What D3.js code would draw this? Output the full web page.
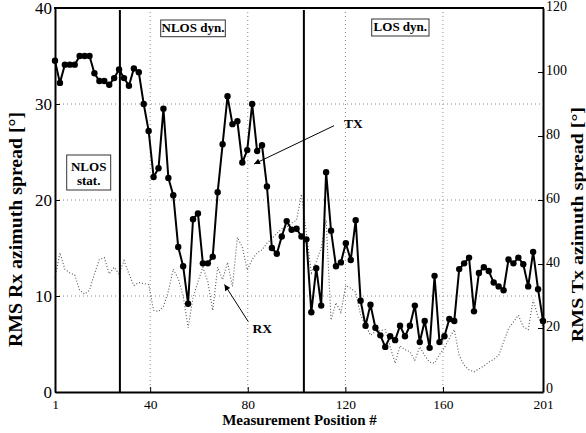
<!DOCTYPE html>
<html><head><meta charset="utf-8">
<script src="https://cdn.jsdelivr.net/npm/d3@7"></script>
<style>body{margin:0;background:#fff}svg{display:block}</style>
</head><body><svg id="c" width="586" height="433"></svg>
<script>
// TX RMS azimuth spread (right axis, degrees), 100 measurements along positions 1..201
const txValues = [103.5, 96.6, 102.3, 102.3, 102.3, 105, 105, 105, 99.6, 97.2,
  97.2, 96, 98.1, 100.8, 98.1, 95.7, 101.1, 99.9, 90, 81.6,
  67.2, 69.9, 88.5, 66.9, 61.5, 45.3, 39.3, 27.6, 54, 55.8,
  40.2, 40.2, 42.3, 62.4, 77.4, 92.4, 83.7, 84.6, 71.7, 75.6,
  90, 75.3, 77.1, 64.2, 45, 43.2, 48.6, 53.4, 50.7, 51,
  48.6, 47.7, 24.9, 38.7, 27, 68.7, 50.4, 39.3, 40.5, 46.5,
  41.25, 53.7, 28.5, 20.7, 27.3, 20.1, 17.7, 14.1, 17.4, 16.2,
  20.7, 17.4, 20.7, 27, 15.6, 22.2, 13.8, 36.3, 15.6, 17.4,
  22.8, 22.2, 38.4, 40.2, 42, 25.2, 37.2, 39, 37.8, 34.2,
  33, 31.8, 41.4, 40.2, 42, 39.9, 33, 43.8, 32.1, 22.2];
// RX RMS azimuth spread (left axis, degrees)
const rxValues = [11.9, 14.5, 12.8, 12.4, 12.2, 10.6, 10.2, 10.6, 12.3, 13.8,
  14.0, 12.3, 13.0, 12.3, 13.7, 12.3, 11.1, 11.4, 11.3, 11.2,
  8.5, 8.4, 8.9, 10.5, 12.8, 11.8, 10.0, 6.7, 9.8, 11.5,
  13.0, 11.5, 8.5, 13.0, 11.7, 13.5, 11.0, 16.1, 15.1, 12.7,
  13.8, 14.5, 14.8, 15.5, 16.0, 16.5, 17.0, 17.2, 17.6, 17.9,
  20.6, 16.5, 12.4, 13.6, 15.0, 17.9, 7.5, 9.3, 8.3, 11.1,
  10.8, 10.4, 8.0, 7.0, 5.9, 6.3, 6.4, 6.5, 4.7, 3.0,
  4.8, 4.4, 4.2, 3.3, 4.7, 3.8, 3.1, 3.0, 3.9, 4.6,
  5.6, 6.5, 3.8, 2.8, 2.3, 2.1, 2.4, 2.7, 3.1, 3.4,
  3.8, 5.2, 6.6, 7.3, 8.0, 6.8, 6.5, 9.6, 7.8, 6.8];
const positionRange = [1, 201];
const xTicks = [1, 40, 80, 120, 160, 201];
const yLeftTicks = [0, 10, 20, 30, 40];
const yRightTicks = [0, 20, 40, 60, 80, 100, 120];
const gridX = [40, 80, 120, 160];
const gridY = [10, 20, 30];
const regionBounds = [27.6, 103];
const xLabel = "Measurement Position #";
const yLeftLabel = "RMS Rx azimuth spread [°]";
const yRightLabel = "RMS Tx azimuth spread [°]";

const svg = d3.select("#c");
svg.append("rect").attr("width", 586).attr("height", 433).attr("fill", "#fff");
const L = 55, R = 543, T = 8, B = 392;
const x = d3.scaleLinear().domain(positionRange).range([L, R]);
const yL = d3.scaleLinear().domain([0, 40]).range([B, T]);
const yR = d3.scaleLinear().domain([0, 120]).range([B, T]);
const idx = d3.scaleLinear().domain([0, txValues.length - 1]).range(positionRange);
const serif = "'Liberation Serif', 'Times New Roman', serif";

// grid
const grid = svg.append("g").attr("stroke", "#888").attr("stroke-width", 1).attr("stroke-dasharray", "1,3");
grid.selectAll(".gx").data(gridX).join("line")
  .attr("x1", d => x(d)).attr("x2", d => x(d)).attr("y1", T).attr("y2", B);
grid.selectAll(".gy").data(gridY).join("line")
  .attr("x1", L).attr("x2", R).attr("y1", d => yL(d)).attr("y2", d => yL(d));

// RX dotted
const rxLine = d3.line().x((d, i) => x(idx(i))).y(d => yL(d));
svg.append("path").datum(rxValues).attr("d", rxLine).attr("fill", "none")
  .attr("stroke", "#555").attr("stroke-width", 1.1).attr("stroke-dasharray", "1,2");

// TX line with markers
const txLine = d3.line().x((d, i) => x(idx(i))).y(d => yR(d));
svg.append("path").datum(txValues).attr("d", txLine).attr("fill", "none")
  .attr("stroke", "#000").attr("stroke-width", 2).attr("stroke-linejoin", "round");
svg.selectAll(".m").data(txValues).join("circle")
  .attr("cx", (d, i) => x(idx(i))).attr("cy", d => yR(d)).attr("r", 3.2).attr("fill", "#000");

// region boundaries
svg.selectAll(".vb").data(regionBounds).join("line")
  .attr("x1", d => x(d)).attr("x2", d => x(d)).attr("y1", T + 2).attr("y2", B)
  .attr("stroke", "#000").attr("stroke-width", 2);

// region boxes
const boxes = [
  {lines: ["NLOS dyn."], x0: 160.7, x1: 225.3, y0: 20, y1: 36.7, base: [31.8]},
  {lines: ["LOS dyn."], x0: 371.7, x1: 429, y0: 19, y1: 36, base: [31]},
  {lines: ["NLOS", "stat."], x0: 66.7, x1: 110.7, y0: 155, y1: 190, base: [170.5, 184.5]}
];
boxes.forEach(b => {
  svg.append("rect").attr("x", b.x0).attr("y", b.y0).attr("width", b.x1 - b.x0).attr("height", b.y1 - b.y0)
    .attr("fill", "#fff").attr("stroke", "#333").attr("stroke-width", 1);
  b.lines.forEach((t, k) => svg.append("text").attr("x", (b.x0 + b.x1) / 2).attr("y", b.base[k])
    .attr("text-anchor", "middle").attr("font-family", serif).attr("font-weight", "bold")
    .attr("font-size", 13).text(t));
});

// arrows
svg.append("defs").append("marker").attr("id", "ah").attr("viewBox", "0 0 10 10")
  .attr("refX", 10).attr("refY", 5).attr("markerWidth", 7).attr("markerHeight", 6)
  .attr("markerUnits", "userSpaceOnUse").attr("orient", "auto")
  .append("path").attr("d", "M0,0L10,5L0,10z").attr("fill", "#000");
svg.append("line").attr("x1", 334).attr("y1", 125.7).attr("x2", 254).attr("y2", 164)
  .attr("stroke", "#000").attr("stroke-width", 1).attr("marker-end", "url(#ah)");
svg.append("line").attr("x1", 248.3).attr("y1", 321.7).attr("x2", 224.5).attr("y2", 284.5)
  .attr("stroke", "#000").attr("stroke-width", 1).attr("marker-end", "url(#ah)");
svg.append("text").attr("x", 344).attr("y", 128.3).attr("font-family", serif).attr("font-weight", "bold")
  .attr("font-size", 13.5).text("TX");
svg.append("text").attr("x", 252.5).attr("y", 332.7).attr("font-family", serif).attr("font-weight", "bold")
  .attr("font-size", 13.5).text("RX");

// axes
const gL = svg.append("g").attr("transform", `translate(${L},0)`)
  .call(d3.axisLeft(yL).tickValues(yLeftTicks).tickSizeInner(-5).tickSizeOuter(0).tickPadding(3));
const gB = svg.append("g").attr("transform", `translate(0,${B})`)
  .call(d3.axisBottom(x).tickValues(xTicks).tickSizeInner(-5).tickSizeOuter(0).tickPadding(7));
const gR = svg.append("g").attr("transform", `translate(${R},0)`)
  .call(d3.axisRight(yR).tickValues(yRightTicks).tickSizeInner(-5).tickSizeOuter(0).tickPadding(3));
[gL, gB, gR].forEach(g => {
  g.select(".domain").attr("stroke", "#000").attr("stroke-width", 2);
  g.selectAll(".tick line").attr("stroke", "#000").attr("stroke-width", 1);
  g.selectAll("text").attr("font-family", serif).attr("fill", "#000");
});
gL.selectAll("text").attr("font-size", 17);
gB.selectAll("text").attr("font-size", 13.5);
gR.selectAll("text").attr("font-size", 14).attr("dy", d => d === 0 ? "0.05em" : "0.2em");
svg.append("line").attr("x1", L - 1).attr("x2", R + 1).attr("y1", T).attr("y2", T)
  .attr("stroke", "#000").attr("stroke-width", 2);

// axis labels
svg.append("text").attr("x", 299.5).attr("y", 425).attr("text-anchor", "middle")
  .attr("font-family", serif).attr("font-weight", "bold").attr("font-size", 15).text(xLabel);
svg.append("text").attr("transform", "translate(22,229.5) rotate(-90)").attr("text-anchor", "middle")
  .attr("font-family", serif).attr("font-weight", "bold").attr("font-size", 19)
  .attr("textLength", 235).attr("lengthAdjust", "spacingAndGlyphs").text(yLeftLabel);
svg.append("text").attr("transform", "translate(583,224.5) rotate(-90)").attr("text-anchor", "middle")
  .attr("font-family", serif).attr("font-weight", "bold").attr("font-size", 17.5)
  .attr("textLength", 235).attr("lengthAdjust", "spacingAndGlyphs").text(yRightLabel);
</script></body></html>
